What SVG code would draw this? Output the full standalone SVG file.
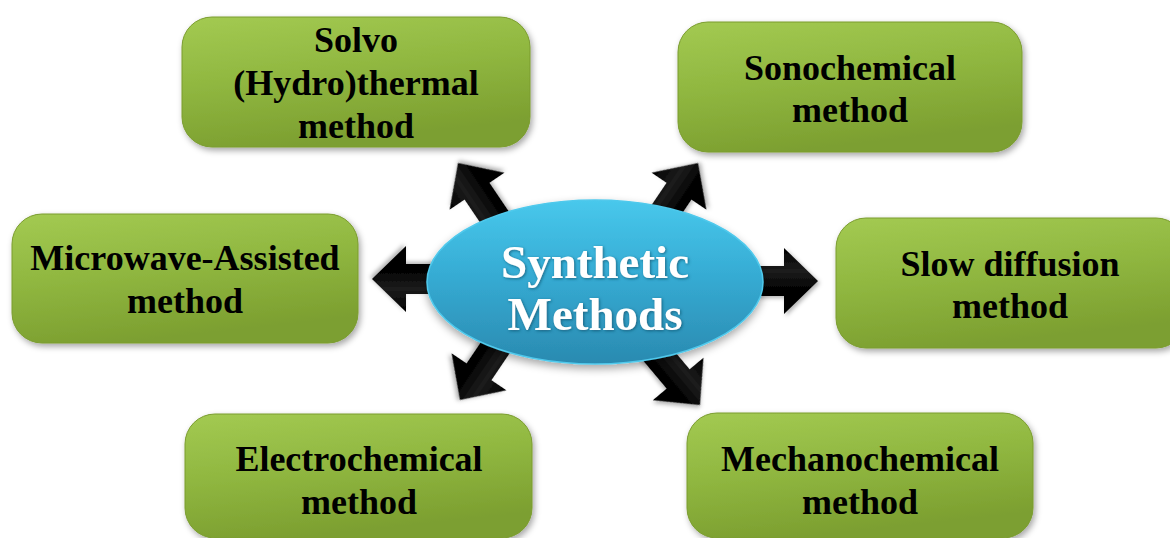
<svg xmlns="http://www.w3.org/2000/svg" width="1170" height="538" viewBox="0 0 1170 538">
<style>
.box{fill:url(#gGreen);stroke:#7a9c2e;stroke-width:1;filter:url(#shadow)}
.lbl{font-family:"Liberation Serif","Times New Roman",serif;font-weight:bold;font-size:36px;fill:#000;text-anchor:middle}
.ctr{font-family:"Liberation Serif","Times New Roman",serif;font-weight:bold;font-size:47px;fill:#fff;text-anchor:middle;filter:url(#tshadow)}
.arrow{fill:url(#gArrow);filter:url(#ashadow)}
</style>
<defs>
<linearGradient id="gGreen" x1="0" y1="0" x2="0.3" y2="1">
<stop offset="0" stop-color="#a3ca52"/>
<stop offset="0.5" stop-color="#90b740"/>
<stop offset="1" stop-color="#7c9f30"/>
</linearGradient>
<linearGradient id="gBlue" x1="0" y1="0" x2="0" y2="1">
<stop offset="0" stop-color="#48c8ec"/>
<stop offset="0.45" stop-color="#36acd4"/>
<stop offset="1" stop-color="#2a8ab0"/>
</linearGradient>
<linearGradient id="gArrow" x1="0" y1="0" x2="0" y2="1">
<stop offset="0" stop-color="#000"/>
<stop offset="0.35" stop-color="#1c1c1c"/>
<stop offset="0.6" stop-color="#050505"/>
<stop offset="1" stop-color="#000"/>
</linearGradient>
<filter id="shadow" x="-10%" y="-10%" width="120%" height="130%">
<feDropShadow dx="2" dy="3" stdDeviation="3" flood-color="#000" flood-opacity="0.35"/>
</filter>
<filter id="ashadow" x="-20%" y="-20%" width="140%" height="140%">
<feDropShadow dx="2" dy="2" stdDeviation="2" flood-color="#000" flood-opacity="0.3"/>
</filter>
<filter id="eshadow" x="-10%" y="-10%" width="120%" height="130%">
<feDropShadow dx="0" dy="4" stdDeviation="4" flood-color="#000" flood-opacity="0.35"/>
</filter>
<filter id="tshadow" x="-10%" y="-20%" width="120%" height="140%">
<feDropShadow dx="1" dy="1" stdDeviation="1.5" flood-color="#0b4a63" flood-opacity="0.7"/>
</filter>
<path id="arr" d="M0,0 L-34,-33 L-34,-15 L-85,-15 L-85,15 L-34,15 L-34,33 Z"/>
</defs>
<rect width="1170" height="538" fill="#fff"/>

<g id="connectors">
<use href="#arr" class="arrow" transform="translate(818,281)"/>
<use href="#arr" class="arrow" transform="translate(372,279) rotate(180)"/>
<use href="#arr" class="arrow" transform="translate(458,163) rotate(236)"/>
<use href="#arr" class="arrow" transform="translate(698,163) rotate(-56)"/>
<use href="#arr" class="arrow" transform="translate(460,400) rotate(124)"/>
<use href="#arr" class="arrow" transform="translate(700,405) rotate(50)"/>
</g>

<g id="center">
<ellipse cx="595" cy="282" rx="168" ry="82" fill="url(#gBlue)" stroke="#4fc9ec" stroke-width="1.5" filter="url(#eshadow)"/>
<text class="ctr" x="595" y="278">Synthetic</text>
<text class="ctr" x="595" y="330">Methods</text>
</g>

<g id="solvo">
<rect class="box" x="182" y="17" width="348" height="130" rx="30"/>
<text class="lbl" x="356" y="52">Solvo</text>
<text class="lbl" x="356" y="95">(Hydro)thermal</text>
<text class="lbl" x="356" y="138">method</text>
</g>

<g id="sonochemical">
<rect class="box" x="678" y="22" width="344" height="130" rx="30"/>
<text class="lbl" x="850" y="80">Sonochemical</text>
<text class="lbl" x="850" y="122">method</text>
</g>

<g id="microwave">
<rect class="box" x="12" y="214" width="346" height="129" rx="30"/>
<text class="lbl" x="185" y="270">Microwave-Assisted</text>
<text class="lbl" x="185" y="313">method</text>
</g>

<g id="slowdiffusion">
<rect class="box" x="836" y="218" width="350" height="130" rx="30"/>
<text class="lbl" x="1010" y="276">Slow diffusion</text>
<text class="lbl" x="1010" y="318">method</text>
</g>

<g id="electrochemical">
<rect class="box" x="185" y="414" width="347" height="124" rx="30"/>
<text class="lbl" x="359" y="471">Electrochemical</text>
<text class="lbl" x="359" y="514">method</text>
</g>

<g id="mechanochemical">
<rect class="box" x="687" y="413" width="346" height="125" rx="30"/>
<text class="lbl" x="860" y="471">Mechanochemical</text>
<text class="lbl" x="860" y="514">method</text>
</g>
</svg>
